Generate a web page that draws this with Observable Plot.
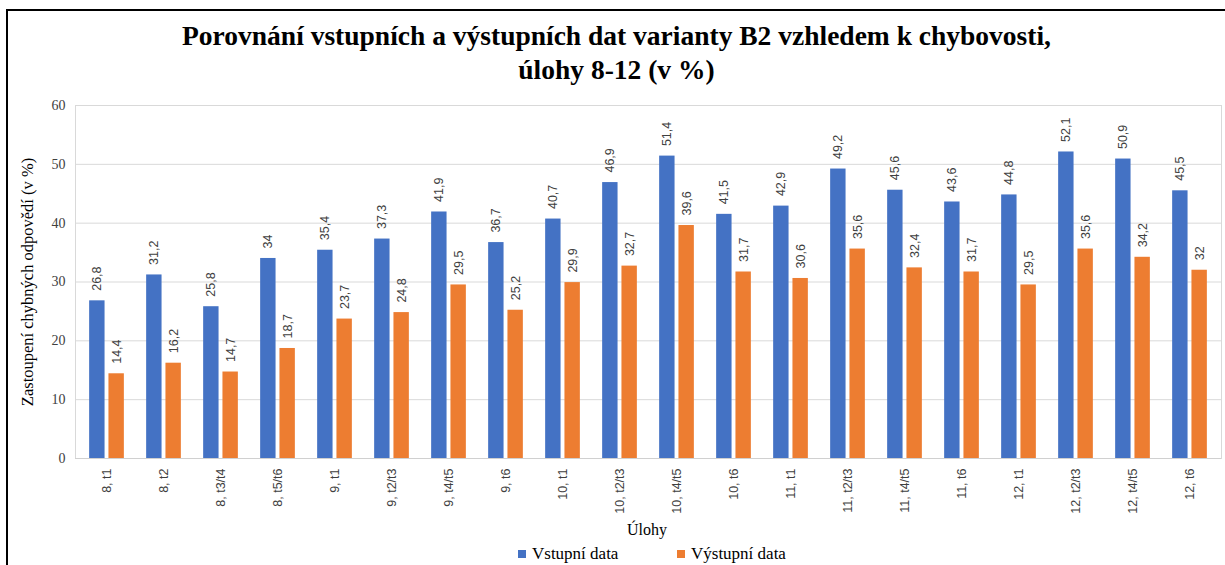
<!DOCTYPE html>
<html><head><meta charset="utf-8">
<script src="https://cdn.jsdelivr.net/npm/d3@7"></script>
<script src="https://cdn.jsdelivr.net/npm/@observablehq/plot@0.6"></script>
<style>
body{margin:0;background:#fff;width:1225px;height:565px;overflow:hidden;position:relative;font-family:"Liberation Serif",serif}
#frame{position:absolute;left:6px;top:9px;width:1240px;height:620px;border-left:2px solid #000;border-top:2px solid #000}
#title{position:absolute;left:8px;width:1217px;top:19px;text-align:center;font-weight:bold;font-size:27.5px;line-height:34px;color:#000}
#chart{position:absolute;left:0;top:95px}
#ylabel{position:absolute;left:28px;top:282px;transform:translate(-50%,-50%) rotate(-90deg);white-space:nowrap;font-size:16.5px;color:#000}
#xlabel{position:absolute;left:647px;top:530px;transform:translate(-50%,-50%);font-size:16px;color:#000}
#legend{position:absolute;left:518px;top:544px;font-size:17px;color:#000;display:flex;align-items:center;white-space:nowrap}
#legend .sw{display:inline-block;width:8px;height:8px;margin-right:6px}
</style>
</head><body>
<div id="frame"></div>
<div id="title">Porovnání vstupních a výstupních dat varianty B2 vzhledem k chybovosti,<br>úlohy 8-12 (v %)</div>
<div id="chart"></div>
<div id="ylabel">Zastoupení chybných odpovědí (v %)</div>
<div id="xlabel">Úlohy</div>
<div id="legend"><span class="sw" style="background:#4472C4"></span><span style="width:145px">Vstupní data</span><span class="sw" style="background:#ED7D31"></span><span>Výstupní data</span></div>
<script>
const categories = ["8, t1","8, t2","8, t3/t4","8, t5/t6","9, t1","9, t2/t3","9, t4/t5","9, t6","10, t1","10, t2/t3","10, t4/t5","10, t6","11, t1","11, t2/t3","11, t4/t5","11, t6","12, t1","12, t2/t3","12, t4/t5","12, t6"];
const vstupni = [26.8,31.2,25.8,34,35.4,37.3,41.9,36.7,40.7,46.9,51.4,41.5,42.9,49.2,45.6,43.6,44.8,52.1,50.9,45.5];
const vystupni = [14.4,16.2,14.7,18.7,23.7,24.8,29.5,25.2,29.9,32.7,39.6,31.7,30.6,35.6,32.4,31.7,29.5,35.6,34.2,32];
const yTicks = [0,10,20,30,40,50,60];

const blue = categories.map((c,i)=>({cat:c, v:vstupni[i]}));
const orange = categories.map((c,i)=>({cat:c, v:vystupni[i]}));
const fmt = v => String(v).replace(".", ",");
const band = (1221-75)/categories.length;
const half = band/2;

const chart = Plot.plot({
  width:1225, height:445,
  marginLeft:75, marginRight:4, marginTop:10, marginBottom:82,
  style:{fontFamily:"Liberation Serif", background:"transparent", overflow:"visible"},
  x:{domain:categories, padding:0, axis:null},
  y:{domain:[0,60], axis:null},
  marks:[
    Plot.gridY(yTicks, {stroke:"#d9d9d9", strokeOpacity:1, strokeWidth:1}),
    Plot.frame({stroke:"#d9d9d9", strokeWidth:1}),
    Plot.barY(blue, {x:"cat", y:"v", fill:"#4472C4", insetLeft:half-17.5, insetRight:half+1.8}),
    Plot.barY(orange, {x:"cat", y:"v", fill:"#ED7D31", insetLeft:half+1.8, insetRight:half-17.5}),
    Plot.ruleY([0], {stroke:"#d0d0d0"}),
    Plot.text(blue, {x:"cat", y:"v", text:d=>fmt(d.v), rotate:-90, textAnchor:"start", dx:-9.65, dy:-10, fontFamily:"Liberation Sans", fontSize:12.5, fill:"#404040"}),
    Plot.text(orange, {x:"cat", y:"v", text:d=>fmt(d.v), rotate:-90, textAnchor:"start", dx:9.65, dy:-10, fontFamily:"Liberation Sans", fontSize:12.5, fill:"#404040"}),
    Plot.axisY(yTicks, {tickSize:0, tickPadding:10, label:null, fontSize:14, fill:"#404040"}),
    Plot.axisX({tickSize:0, tickPadding:10, tickRotate:-90, label:null, fontFamily:"Liberation Sans", fontSize:12.5, fill:"#404040"})
  ]
});
document.getElementById("chart").appendChild(chart);
</script>
</body></html>
